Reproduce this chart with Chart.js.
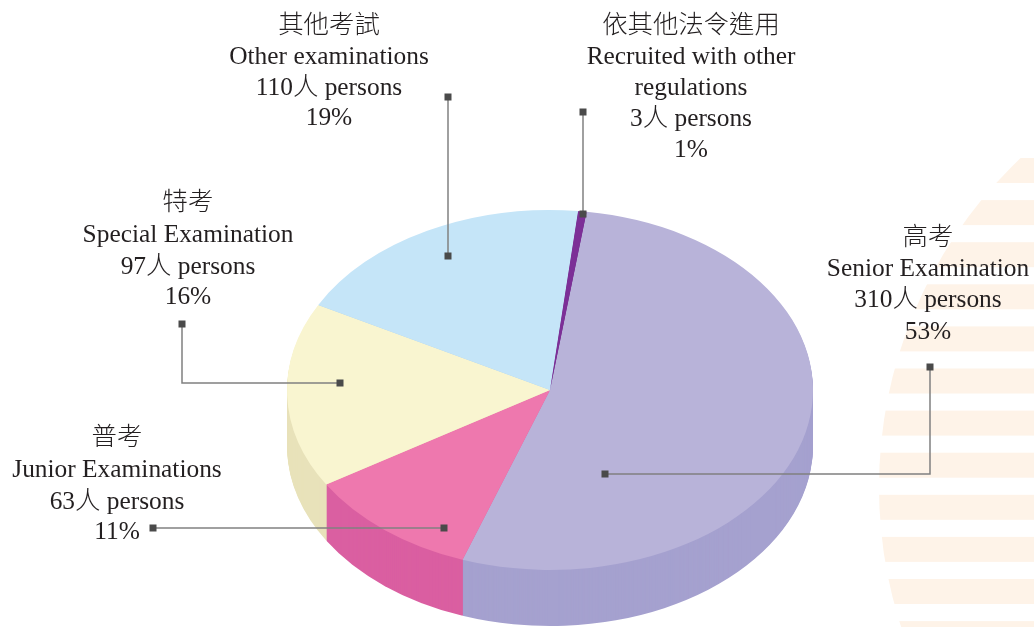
<!DOCTYPE html>
<html>
<head>
<meta charset="utf-8">
<style>html,body{margin:0;padding:0;background:#fff}canvas{display:block}</style>
<script src="https://cdn.jsdelivr.net/npm/chart.js@4/dist/chart.umd.min.js"></script>
</head>
<body>
<canvas id="c" width="1034" height="627"></canvas>
<script>
const categoriesZh = ['高考', '普考', '特考', '其他考試', '依其他法令進用'];
const categoriesEn = ['Senior Examination', 'Junior Examinations', 'Special Examination', 'Other examinations', 'Recruited with other'];
const persons = [310, 63, 97, 110, 3];
const percents = ['53%', '11%', '16%', '19%', '1%'];
const topColors = ['#b8b3d9', '#ee78ae', '#f9f5d0', '#c5e5f8', '#7c2f97'];
const sideColors = ['#a5a1cf', '#da5fa1', '#e8e2ba', '#b0d0e4', '#6a2785'];

// layout of the drawing
const tilt = { sx: 263 / 237, sy: 180 / 237, depth: 56 };
const labelFont = '300 25.4px "Liberation Serif", "Noto Sans CJK TC", serif';
const labelBoxes = [
  { x: 928, y: [238, 269, 300, 332] },
  { x: 117, y: [438, 470, 502, 532] },
  { x: 188, y: [203, 235, 267, 297] },
  { x: 329, y: [26, 57, 88, 118] },
  { x: 691, y: [26, 57, 88, 119, 150] }
];
const leaders = [
  [[605, 474], [930, 474], [930, 367]],
  [[444, 528], [153, 528]],
  [[340, 383], [182, 383], [182, 324]],
  [[448, 256], [448, 97]],
  [[583, 214], [583, 112]]
];

const backdrop = {
  id: 'backdrop',
  beforeDraw(chart) {
    const ctx = chart.ctx;
    ctx.save();
    ctx.beginPath();
    ctx.arc(1332, 487, 453, 0, Math.PI * 2);
    ctx.clip();
    ctx.fillStyle = '#fef3e8';
    for (let y = 158; y < 627; y += 42.1) ctx.fillRect(850, y, 190, 25);
    ctx.restore();
  }
};

const tilted = {
  id: 'tilted',
  beforeDatasetsDraw(chart) {
    const ctx = chart.ctx;
    const arcs = chart.getDatasetMeta(0).data;
    const cx = arcs[0].x, cy = arcs[0].y;
    ctx.save();
    ctx.translate(cx, cy);
    ctx.scale(tilt.sx, tilt.sy);
    ctx.translate(-cx, -cy);
    for (let k = tilt.depth; k >= 1; k--) {
      arcs.forEach((a, i) => {
        ctx.fillStyle = sideColors[i];
        ctx.beginPath();
        ctx.moveTo(a.x, a.y + k / tilt.sy);
        ctx.arc(a.x, a.y + k / tilt.sy, a.outerRadius, a.startAngle, a.endAngle);
        ctx.closePath();
        ctx.fill();
      });
    }
  },
  afterDatasetsDraw(chart) {
    chart.ctx.restore();
  },
  afterDraw(chart) {
    const ctx = chart.ctx;
    ctx.save();
    leaders.forEach(path => {
      ctx.strokeStyle = '#808080';
      ctx.lineWidth = 1.5;
      ctx.beginPath();
      path.forEach((p, i) => i ? ctx.lineTo(p[0], p[1]) : ctx.moveTo(p[0], p[1]));
      ctx.stroke();
      ctx.fillStyle = '#4a4a4a';
      [path[0], path[path.length - 1]].forEach(p => ctx.fillRect(p[0] - 3.5, p[1] - 3.5, 7, 7));
    });
    ctx.font = labelFont;
    ctx.fillStyle = '#231f20';
    ctx.textAlign = 'center';
    ctx.textBaseline = 'middle';
    labelBoxes.forEach((b, i) => {
      const lines = [categoriesZh[i], categoriesEn[i]];
      if (i === 4) lines.push('regulations');
      lines.push(persons[i] + '人 persons', percents[i]);
      lines.forEach((t, j) => ctx.fillText(t, b.x, b.y[j]));
    });
    ctx.restore();
  }
};

new Chart(document.getElementById('c'), {
  type: 'pie',
  data: {
    labels: categoriesEn,
    datasets: [{ data: persons, backgroundColor: topColors, borderWidth: 0 }]
  },
  options: {
    responsive: false,
    animation: false,
    rotation: 8,
    layout: { padding: { left: 66, top: 153, right: 0, bottom: 0 } },
    plugins: { legend: { display: false }, tooltip: { enabled: false } }
  },
  plugins: [backdrop, tilted]
});
</script>
</body>
</html>
